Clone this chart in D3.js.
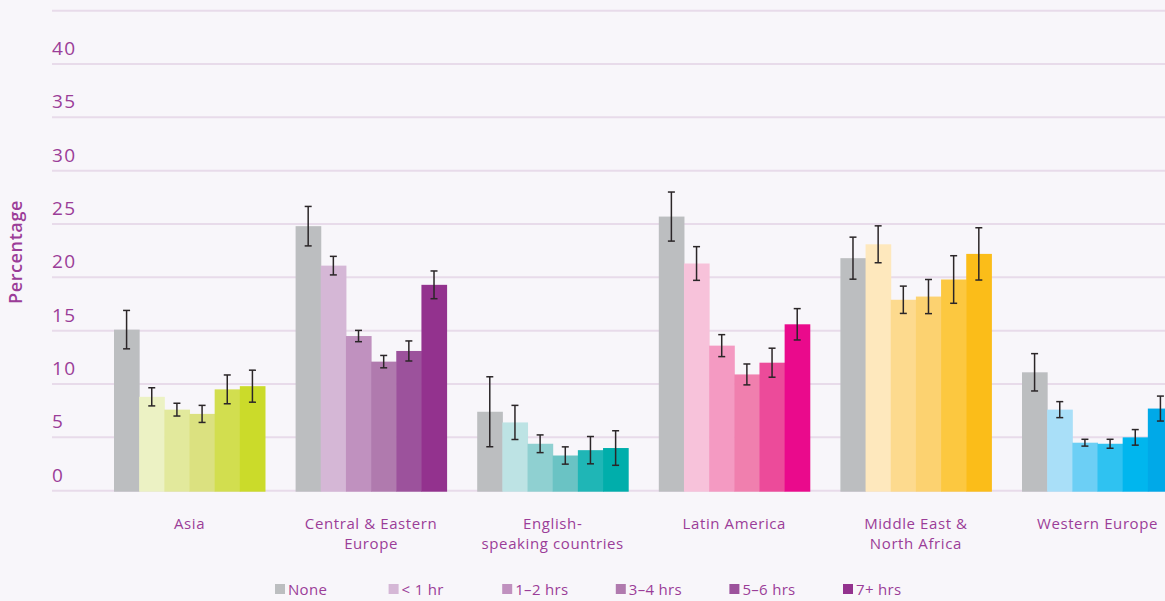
<!DOCTYPE html>
<html>
<head>
<meta charset="utf-8">
<script src="https://cdn.jsdelivr.net/npm/d3@7"></script>
<style>
  body { margin: 0; background: #f8f6fa; }
  svg { display: block; font-family: "Open Sans", "Lato", sans-serif; }
</style>
</head>
<body>
<div id="chart"></div>
<script>
// categories (label lines) and series
var categories = ["Asia", "Central & Eastern Europe", "English-speaking countries", "Latin America", "Middle East & North Africa", "Western Europe"];
var categoryLines = [["Asia"], ["Central & Eastern", "Europe"], ["English-", "speaking countries"], ["Latin America"], ["Middle East &", "North Africa"], ["Western Europe"]];
var series = ["None", "< 1 hr", "1\u20132 hrs", "3\u20134 hrs", "5\u20136 hrs", "7+ hrs"];

// values per category, one per series
var asia     = [15.1, 8.8, 7.6, 7.2, 9.5, 9.8];
var cee      = [24.8, 21.1, 14.5, 12.1, 13.1, 19.3];
var english  = [7.4, 6.4, 4.4, 3.3, 3.8, 4.0];
var latin    = [25.7, 21.3, 13.6, 10.9, 12.0, 15.6];
var mena     = [21.8, 23.1, 17.9, 18.2, 19.8, 22.2];
var western  = [11.1, 7.6, 4.5, 4.4, 5.0, 7.7];

// error bar half-widths
var asiaErr    = [1.8, 0.85, 0.6, 0.8, 1.35, 1.5];
var ceeErr     = [1.85, 0.87, 0.53, 0.58, 0.94, 1.3];
var englishErr = [3.28, 1.6, 0.83, 0.81, 1.28, 1.62];
var latinErr   = [2.3, 1.58, 1.03, 0.98, 1.36, 1.47];
var menaErr    = [1.97, 1.73, 1.28, 1.6, 2.23, 2.45];
var westernErr = [1.75, 0.75, 0.32, 0.42, 0.73, 1.17];

var yTicks = [0, 5, 10, 15, 20, 25, 30, 35, 40];

var allValues = [asia, cee, english, latin, mena, western];
var allErrs = [asiaErr, ceeErr, englishErr, latinErr, menaErr, westernErr];

// colour ramps per region (first is the grey "None")
var grey = "#bcbec0";
var palettes = [
  ["#ecf2c4", "#e2e99c", "#dbe180", "#d2de4f", "#cbdb2a"],
  ["#d5b7d6", "#c091bf", "#b07aae", "#9c529c", "#93328e"],
  ["#bde3e4", "#8fd0d1", "#6ac3c4", "#1fb6b6", "#00aeab"],
  ["#f7c2da", "#f49ac2", "#f07fae", "#ec4b9a", "#ea0a8c"],
  ["#fee8bd", "#fdda8e", "#fcd270", "#fcc840", "#fbbd19"],
  ["#a9dff8", "#6ccff5", "#2fc2f1", "#00b6ee", "#00a9e8"]
];

var width = 1165, height = 601;
var textColor = "#9b3d98";

var svg = d3.select("#chart").append("svg")
  .attr("width", width)
  .attr("height", height);

svg.append("rect").attr("width", width).attr("height", height).attr("fill", "#f8f6fa");

var yScale = d3.scaleLinear().domain([0, 45]).range([490.7, 10.7]);

var x0 = d3.scaleBand()
  .domain(categories)
  .range([114, 1173])
  .paddingInner(0.1685)
  .paddingOuter(0);

var x1 = d3.scaleBand()
  .domain(series)
  .range([0, x0.bandwidth()])
  .padding(0);

// gridlines
svg.append("g")
  .selectAll("line")
  .data(d3.range(0, 50, 5))
  .enter()
  .append("line")
  .attr("x1", 52)
  .attr("x2", width)
  .attr("y1", d => yScale(d))
  .attr("y2", d => yScale(d))
  .attr("stroke", "#e8dbea")
  .attr("stroke-width", 2);

// tick labels sit above their gridline
svg.append("g")
  .selectAll("text")
  .data(yTicks)
  .enter()
  .append("text")
  .attr("x", 52)
  .attr("y", d => yScale(d) - 9)
  .attr("fill", textColor)
  .attr("font-size", 19)
  .attr("letter-spacing", 1.5)
  .text(d => d);

// y title
svg.append("text")
  .attr("transform", "translate(22, 252) rotate(-90)")
  .attr("text-anchor", "middle")
  .attr("fill", textColor)
  .attr("font-size", 18)
  .attr("font-weight", 600)
  .attr("letter-spacing", 0.6)
  .text("Percentage");

var groups = svg.append("g")
  .selectAll("g")
  .data(categories)
  .enter()
  .append("g")
  .attr("transform", d => `translate(${x0(d)},0)`);

groups.each(function(cat, ci) {
  var g = d3.select(this);
  var rows = series.map((s, si) => ({
    s: s,
    v: allValues[ci][si],
    e: allErrs[ci][si],
    c: si === 0 ? grey : palettes[ci][si - 1]
  }));

  g.selectAll("rect")
    .data(rows)
    .enter()
    .append("rect")
    .attr("x", d => x1(d.s))
    .attr("y", d => yScale(d.v))
    .attr("width", x1.bandwidth() + 0.5)
    .attr("height", d => yScale(0) - yScale(d.v) + 1)
    .attr("fill", d => d.c);

  var err = g.selectAll("g.err")
    .data(rows)
    .enter()
    .append("g")
    .attr("class", "err")
    .attr("stroke", "#2b2628")
    .attr("stroke-width", 1.5);

  var cx = d => x1(d.s) + x1.bandwidth() / 2;
  err.append("line")
    .attr("x1", cx).attr("x2", cx)
    .attr("y1", d => yScale(d.v + d.e))
    .attr("y2", d => yScale(d.v - d.e));
  err.append("line")
    .attr("x1", d => cx(d) - 3.5).attr("x2", d => cx(d) + 3.5)
    .attr("y1", d => yScale(d.v + d.e))
    .attr("y2", d => yScale(d.v + d.e));
  err.append("line")
    .attr("x1", d => cx(d) - 3.5).attr("x2", d => cx(d) + 3.5)
    .attr("y1", d => yScale(d.v - d.e))
    .attr("y2", d => yScale(d.v - d.e));
});

// category labels
var labels = svg.append("g")
  .selectAll("text")
  .data(categories)
  .enter()
  .append("text")
  .attr("x", d => x0(d) + x0.bandwidth() / 2)
  .attr("y", 529)
  .attr("text-anchor", "middle")
  .attr("fill", textColor)
  .attr("font-size", 15)
  .attr("letter-spacing", 0.6);

labels.selectAll("tspan")
  .data((d, i) => categoryLines[i])
  .enter()
  .append("tspan")
  .attr("x", function() { return this.parentNode.getAttribute("x"); })
  .attr("dy", (d, i) => i === 0 ? 0 : 20)
  .text(d => d);

// legend
var legendX = d3.scalePoint().domain(series).range([275, 843]);
var legendColors = [grey].concat(palettes[1]);

var legend = svg.append("g")
  .selectAll("g")
  .data(series)
  .enter()
  .append("g")
  .attr("transform", d => `translate(${legendX(d)}, 584)`);

legend.append("rect")
  .attr("width", 10)
  .attr("height", 10)
  .attr("fill", (d, i) => legendColors[i]);

legend.append("text")
  .attr("x", 13)
  .attr("y", 10.5)
  .attr("fill", textColor)
  .attr("font-size", 15)
  .attr("letter-spacing", 0.3)
  .text(d => d);
</script>
</body>
</html>
